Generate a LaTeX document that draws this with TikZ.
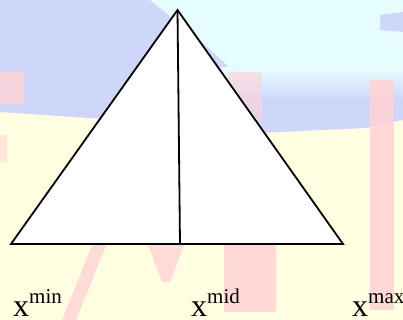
\documentclass[tikz,border=0pt]{standalone}
\usepackage{fontspec}
\setmainfont{Liberation Serif}
\definecolor{bgyellow}{HTML}{FFFEE0}
\definecolor{bgblue}{HTML}{CED6FA}
\definecolor{bgcyan}{HTML}{E6FDFF}
\definecolor{bgpink}{HTML}{FFD3D6}
\tikzset{
  edge/.style={draw=black, line width=1.8pt, line join=miter},
  lbl/.style={anchor=base west, inner sep=0pt, font=\fontsize{32}{32}\selectfont},
  stripe/.style={fill=bgpink, draw=none},
}
\newcommand{\suplbl}[1]{\smash{x\raisebox{13pt}{\fontsize{21}{21}\selectfont #1}}}
\begin{document}
\begin{tikzpicture}[x=1pt,y=-1pt]
\useasboundingbox (0,0) rectangle (403,320);
% background picture (blurred)
\fill[bgyellow] (0,0) rectangle (403,320);
\fill[bgblue] (0,0) -- (403,0) -- (403,120) -- (365,128) -- (260,133) -- (180,125) -- (90,118) -- (0,112) -- cycle;
\fill[bgcyan] (150,0) -- (403,0) -- (403,12) -- (380,15) -- (380,30) -- (403,32) -- (403,68) -- (230,68) -- (200,40) -- cycle;
\shade[top color=bgcyan, bottom color=bgblue, draw=none] (215,68) rectangle (403,100);
\fill[stripe, opacity=0.8] (0,72) rectangle (24,104);
\fill[stripe, opacity=0.5] (0,135) rectangle (7,162);
\fill[stripe, opacity=0.9] (370,80) rectangle (394,310);
\fill[stripe, opacity=0.6] (228,72) rectangle (262,120);
\fill[stripe, opacity=0.9] (224,245) rectangle (276,312);
\fill[stripe, opacity=0.8] (148,245) -- (184,245) -- (170,282) -- (162,282) -- cycle;
\fill[stripe, opacity=0.8] (92,245) -- (106,245) -- (76,320) -- (62,320) -- cycle;
% diagram
\coordinate (apex) at (177.5,10);
\coordinate (bl) at (11,244);
\coordinate (br) at (343,244);
\coordinate (bm) at (180,244);
\filldraw[edge, fill=white] (apex) -- (br) -- (bl) -- cycle;
\draw[edge] (apex) -- (bm);
\node[lbl] (xmin) at (13,316) {\suplbl{min}};
\node[lbl] (xmid) at (191,316) {\suplbl{mid}};
\node[lbl] (xmax) at (352,316) {\suplbl{max}};
\end{tikzpicture}
\end{document}
